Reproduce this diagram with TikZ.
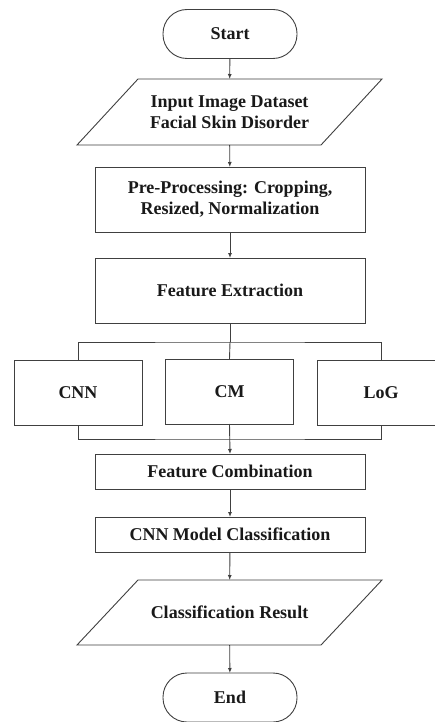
\documentclass[tikz,border=0pt]{standalone}
\usepackage{fontspec}
\setmainfont{Liberation Serif}
\usetikzlibrary{arrows.meta}
\begin{document}
\begin{tikzpicture}[x=1pt,y=-1pt,
  every node/.style={font=\fontsize{18}{21}\selectfont\bfseries, text=black!90, align=center, inner sep=0pt, outer sep=0pt},
  line/.style={draw=black!75, line width=0.9pt},
  arr/.style={line, -{Latex[length=5pt,width=4pt]}},
  term/.style={line, rounded corners=24pt, minimum width=134pt, minimum height=49pt},
  box/.style={line, minimum width=270pt},
  sub/.style={line, minimum width=128pt, minimum height=65pt},
  io/.style={minimum width=305pt, minimum height=66pt}]
\useasboundingbox (0,0) rectangle (435,722);
\fill[white] (0,0) rectangle (435,722);
\node[term] (start) at (230,34) {Start};
\node[io] (in) at (229.5,112) {Input Image Dataset\\Facial Skin Disorder};
\draw[line] (in.south west) -- ([xshift=61pt]in.north west) -- (in.north east) -- ([xshift=-61pt]in.south east) -- cycle;
\node[box, minimum height=65pt] (pre) at (230,199.5) {Pre-Processing: Cropping,\\Resized, Normalization};
\node[box, minimum height=65pt] (fe) at (230,290.5) {Feature Extraction};
\node[sub] (cnn) at (78,393) {CNN};
\node[sub] (cm) at (229.5,391.5) {CM};
\node[sub] (log) at (381,392.5) {LoG};
\coordinate (split) at (230,342);
\coordinate (join) at (230,439);
\node[box, minimum height=35pt] (fc) at (230,471.5) {Feature Combination};
\node[box, minimum height=35pt] (cmc) at (230,534.5) {CNN Model Classification};
\node[io, minimum height=65pt] (res) at (229.5,612.5) {Classification Result};
\draw[line] (res.south west) -- ([xshift=61pt]res.north west) -- (res.north east) -- ([xshift=-61pt]res.south east) -- cycle;
\node[term] (end) at (230,697.5) {End};
\draw[arr] (start) -- (in);
\draw[arr] (in) -- (pre);
\draw[arr] (pre) -- (fe);
\draw[line] (fe.south) -- (split);
\draw[line] (cnn.north) |- (split) -| (log.north);
\draw[line] (split) -- (cm.north);
\draw[line] (cnn.south) |- (join) -| (log.south);
\draw[arr] (cm.south) -- (fc.north);
\draw[arr] (fc) -- (cmc);
\draw[arr] (cmc) -- (res);
\draw[arr] (res) -- (end);
\end{tikzpicture}
\end{document}
